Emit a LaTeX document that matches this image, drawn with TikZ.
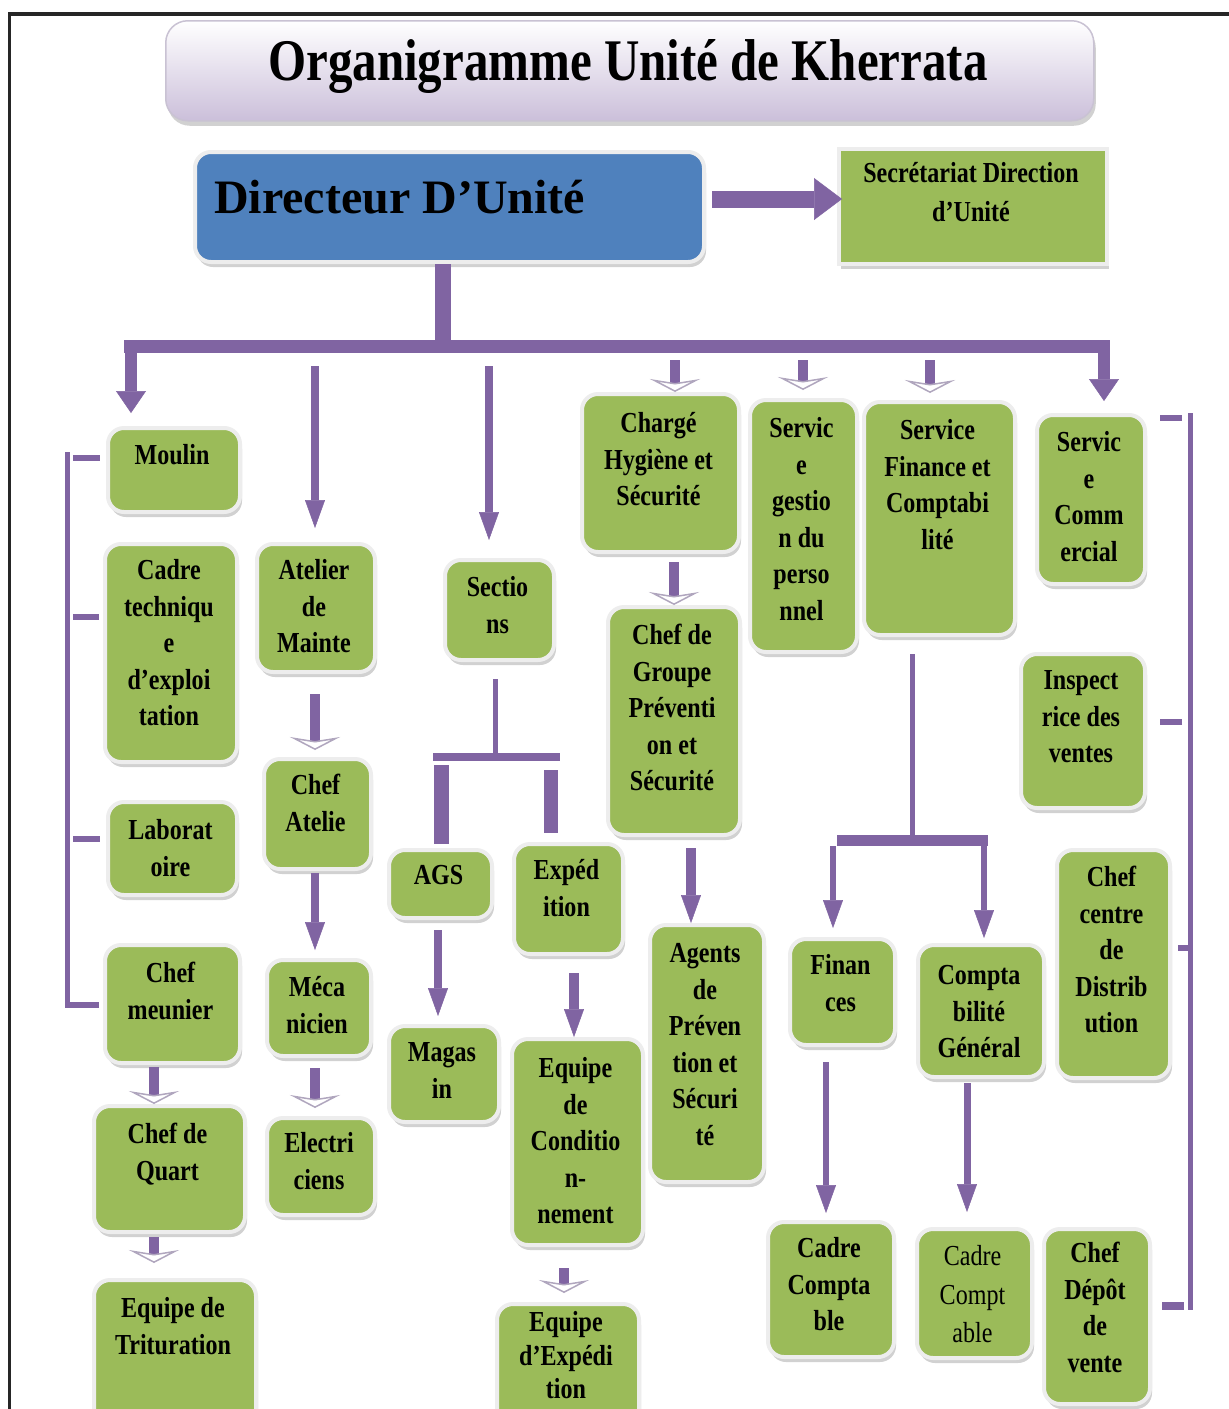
\documentclass[tikz,border=0pt]{standalone}
\usepackage{fontspec}
\setmainfont{Liberation Serif}
\newfontfamily\cfont[FakeStretch=0.83]{Liberation Serif}
\usetikzlibrary{arrows.meta,shadows}

\definecolor{boxgreen}{HTML}{9BBB59}
\definecolor{dirblue}{HTML}{4F81BD}
\definecolor{orgpurple}{HTML}{8064A2}
\definecolor{titlelav}{HTML}{CBBFDA}
\definecolor{titleedge}{HTML}{C9C2D3}
\definecolor{chevgray}{HTML}{B0A6BE}

\tikzset{
  softshadow/.style={drop shadow={shadow xshift=2pt, shadow yshift=-5pt, fill=black!40, opacity=0.45}},
  gbox/.style={anchor=north west, inner sep=0pt, fill=boxgreen, draw=black!7,
    line width=4pt, rounded corners=16pt, softshadow},
  lbl/.style={anchor=north, inner sep=0pt, align=center,
    font=\cfont\bfseries\fontsize{29}{36.5}\selectfont},
  pbar/.style={draw=orgpurple, line width=#1}, pbar/.default=12pt,
  fatarr/.style={draw=orgpurple, line width=12pt,
    -{Triangle[width=30pt,length=22pt,line width=0.5pt]}},
  purarr/.style={draw=orgpurple, line width=#1,
    -{Triangle[width=20pt,length=28pt,line width=0.5pt]}}, purarr/.default=8pt,
  chevarr/.style={draw=orgpurple, line width=10pt,
    -{Stealth[width=50pt,length=13pt,inset=4pt,fill=white,color=chevgray,line width=1.5pt]}},
}

% green box: [label style]{name}{x1}{y1}{x2}{y2}{first line centre}{text}
\newcommand\orgbox[8][]{%
  \node[gbox, minimum width={(#5-#3)*1pt}, minimum height={(#6-#4)*1pt}] (#2) at (#3,#4) {};
  \node[lbl,#1] (#2-t) at ({(#3+#5)/2},{#7-14.5}) {\rule{0pt}{24pt}#8};}

\begin{document}
\begin{tikzpicture}[x=1pt,y=-1pt]
\useasboundingbox (0,0) rectangle (1229,1409);
\fill[white] (0,0) rectangle (1229,1409);

% frame
\draw[black!85, line width=4pt] (8,14) -- (1229,14);
\draw[black!85, line width=3pt] (9.5,14) -- (9.5,1409);

% title
\node[anchor=north west, minimum width=928pt, minimum height=100pt, rounded corners=22pt,
  top color=white, bottom color=titlelav, draw=titleedge, line width=1.5pt, softshadow]
  (title) at (165,20) {};
\node[anchor=base, inner sep=0pt, font=\cfont\bfseries\fontsize{59}{70}\selectfont]
  (title-t) at (628,80) {Organigramme Unité de Kherrata};

% director
\node[anchor=north west, minimum width=509pt, minimum height=110pt, fill=dirblue,
  draw=black!7, line width=4pt, rounded corners=16pt, softshadow] (dir) at (193,150) {};
\node[anchor=base west, inner sep=0pt, font=\bfseries\fontsize{48}{56}\selectfont]
  (dir-t) at (214,213) {Directeur D’Unité};

% secretariat
\node[gbox, sharp corners, minimum width=268pt, minimum height=115pt] (sec) at (837,147) {};
\node[lbl, font=\cfont\bfseries\fontsize{29}{38.5}\selectfont] (sec-t) at (971,158.5)
  {\rule{0pt}{24pt}Secrétariat Direction\\d’Unité};

% left column
\orgbox{moulin}{106}{426}{238}{510}{455}{Moulin}
\orgbox{cadre}{103}{542}{235}{760}{570}{Cadre\\techniqu\\e\\d’exploi\\tation}
\orgbox{labo}{106}{800}{235}{893}{830}{Laborat\\oire}
\orgbox{meunier}{103}{943}{238}{1061}{973}{Chef\\meunier}
\orgbox{quart}{92}{1104}{243}{1230}{1134}{Chef de\\Quart}
\orgbox{trit}{92}{1278}{254}{1440}{1308}{Equipe de\\Trituration}

% maintenance
\orgbox{atelier}{255}{542}{373}{670}{570}{Atelier\\de\\Mainte}
\orgbox{chefat}{262}{757}{369}{867}{785}{Chef\\Atelie}
\orgbox{meca}{265}{958}{369}{1054}{987}{Méca\\nicien}
\orgbox{elec}{265}{1116}{373}{1213}{1143}{Electri\\ciens}

% sections
\orgbox{sections}{443}{558}{552}{658}{587}{Sectio\\ns}
\orgbox{ags}{387}{848}{490}{916}{875}{AGS}
\orgbox{exped}{512}{842}{621}{952}{870}{Expéd\\ition}
\orgbox{magasin}{387}{1024}{497}{1120}{1052}{Magas\\in}
\orgbox{cond}{510}{1037}{641}{1243}{1068}{Equipe\\de\\Conditio\\n-\\nement}
\orgbox[font=\cfont\bfseries\fontsize{29}{33.5}\selectfont]{expteam}{495}{1302}{637}{1440}{1322}{Equipe\\d’Expédi\\tion}

% hygiene and safety
\orgbox{charge}{580}{392}{737}{550}{423}{Chargé\\Hygiène et\\Sécurité}
\orgbox{groupe}{606}{605}{738}{833}{635}{Chef de\\Groupe\\Préventi\\on et\\Sécurité}
\orgbox{agents}{648}{923}{762}{1180}{953}{Agents\\de\\Préven\\tion et\\Sécuri\\té}

% personnel, finance
\orgbox{gestion}{748}{398}{855}{650}{428}{Servic\\e\\gestio\\n du\\perso\\nnel}
\orgbox{finance}{862}{400}{1013}{633}{430}{Service\\Finance et\\Comptabi\\lité}
\orgbox{finances}{788}{937}{893}{1043}{965}{Finan\\ces}
\orgbox{compta}{916}{943}{1042}{1075}{975}{Compta\\bilité\\Général}
\orgbox{cadrec1}{766}{1220}{892}{1355}{1248}{Cadre\\Compta\\ble}
\orgbox[font=\cfont\fontsize{29}{38.5}\selectfont]{cadrec2}{915}{1227}{1030}{1356}{1256}{Cadre\\Compt\\able}

% commercial
\orgbox{commercial}{1035}{413}{1143}{582}{442}{Servic\\e\\Comm\\ercial}
\orgbox{inspect}{1019}{652}{1143}{806}{680}{Inspect\\rice des\\ventes}
\orgbox{centre}{1055}{848}{1168}{1076}{877}{Chef\\centre\\de\\Distrib\\ution}
\orgbox{depot}{1042}{1227}{1148}{1402}{1253}{Chef\\Dépôt\\de\\vente}

% trunk and main bar
\coordinate (hub) at (443,346);
\coordinate (barL) at (124,346);
\coordinate (barR) at (1110,346);
\draw[pbar=16pt] (hub |- dir.south) -- (hub);
\draw[pbar=13pt] (barL) -- (barR);

% director to secretariat
\coordinate (sA) at (712,199);
\draw[orgpurple, line width=17pt, shorten >=-5pt,
  -{Triangle[width=42pt,length=28pt,line width=0.5pt]}] (sA) -- (sA -| sec.west);

% branches from the main bar
\coordinate (bM) at (131,340);
\draw[fatarr, shorten >=13pt] (bM) -- (bM |- moulin.north);
\coordinate (bA) at (315,366);
\draw[purarr, shorten >=14pt] (bA) -- (bA |- atelier.north);
\coordinate (bS) at (489,366);
\draw[purarr, shorten >=18pt] (bS) -- (bS |- sections.north);
\coordinate (bH) at (675,360);
\draw[chevarr] (bH) -- (bH |- charge.north);
\coordinate (bG) at (803,360);
\draw[chevarr, shorten >=8pt] (bG) -- (bG |- gestion.north);
\coordinate (bF) at (930,360);
\draw[chevarr, shorten >=7pt] (bF) -- (bF |- finance.north);
\coordinate (bC) at (1104,340);
\draw[fatarr, shorten >=12pt] (bC) -- (bC |- commercial.north);

% left bracket (Moulin)
\coordinate (lT) at (67,452);
\coordinate (lB) at (67,1008);
\draw[pbar=5pt] (lT) -- (lB);
\coordinate (lk1) at (73,458);
\coordinate (lk2) at (73,617);
\coordinate (lk3) at (73,839);
\coordinate (lk4) at (70,1005);
\draw[pbar=6pt, shorten >=6pt] (lk1) -- (lk1 -| moulin.west);
\draw[pbar=6pt, shorten >=4pt] (lk2) -- (lk2 -| cadre.west);
\draw[pbar=6pt, shorten >=6pt] (lk3) -- (lk3 -| labo.west);
\draw[pbar=6pt, shorten >=4pt] (lk4) -- (lk4 -| meunier.west);

% right bracket (commercial)
\coordinate (rT) at (1190,413);
\coordinate (rB) at (1190,1310);
\draw[pbar=5pt] (rT) -- (rB);
\coordinate (rk1) at (1182,418);
\coordinate (rk2) at (1182,722);
\coordinate (rk3) at (1190,948);
\coordinate (rk4) at (1184,1306);
\draw[pbar=6pt, shorten >=13pt] (rk1) -- (rk1 -| commercial.east);
\draw[pbar=6pt, shorten >=13pt] (rk2) -- (rk2 -| inspect.east);
\draw[pbar=6pt, shorten >=6pt] (rk3) -- (rk3 -| centre.east);
\draw[pbar=8pt, shorten >=10pt] (rk4) -- (rk4 -| depot.east);

% milling chain
\coordinate (c1a) at (154,1067);
\draw[chevarr] (c1a) -- (c1a |- quart.north);
\coordinate (c1b) at (154,1237);
\draw[chevarr, shorten >=15pt] (c1b) -- (c1b |- trit.north);

% maintenance chain
\coordinate (c2a) at (315,694);
\draw[chevarr, shorten >=7pt] (c2a) -- (c2a |- chefat.north);
\coordinate (c2b) at (315,873);
\draw[purarr, shorten >=8pt] (c2b) -- (c2b |- meca.north);
\coordinate (c2c) at (315,1068);
\draw[chevarr, shorten >=8pt] (c2c) -- (c2c |- elec.north);

% sections fork
\coordinate (sf) at (495,757);
\draw[pbar=5pt, shorten <=17pt] (sf |- sections.south) -- (sf);
\coordinate (sfL) at (433,757);
\coordinate (sfR) at (560,757);
\draw[pbar=8pt] (sfL) -- (sfR);
\coordinate (sa) at (441,765);
\draw[pbar=15pt, shorten >=4pt] (sa) -- (sa |- ags.north);
\coordinate (se) at (551,770);
\draw[pbar=14pt, shorten >=9pt] (se) -- (se |- exped.north);
\coordinate (c3a) at (438,930);
\draw[purarr, shorten >=8pt] (c3a) -- (c3a |- magasin.north);
\coordinate (c3b) at (574,973);
\draw[purarr=10pt] (c3b) -- (c3b |- cond.north);
\coordinate (c3c) at (564,1268);
\draw[chevarr, shorten >=9pt] (c3c) -- (c3c |- expteam.north);

% hygiene chain
\coordinate (c4a) at (674,562);
\draw[chevarr] (c4a) -- (c4a |- groupe.north);
\coordinate (c4b) at (691,848);
\draw[purarr=10pt] (c4b) -- (c4b |- agents.north);

% finance fork
\coordinate (ff) at (912,840);
\draw[pbar=5pt, shorten <=17pt] (ff |- finance.south) -- (ff);
\coordinate (ffL) at (837,840);
\coordinate (ffR) at (988,840);
\draw[pbar=11pt] (ffL) -- (ffR);
\coordinate (fa) at (833,846);
\draw[purarr=6pt, shorten >=9pt] (fa) -- (fa |- finances.north);
\coordinate (fb) at (984,846);
\draw[purarr=6pt, shorten >=5pt] (fb) -- (fb |- compta.north);
\coordinate (c6a) at (826,1062);
\draw[purarr=6pt, shorten >=7pt] (c6a) -- (c6a |- cadrec1.north);
\coordinate (c6b) at (967,1083);
\draw[purarr=7pt, shorten >=15pt] (c6b) -- (c6b |- cadrec2.north);
\end{tikzpicture}
\end{document}
